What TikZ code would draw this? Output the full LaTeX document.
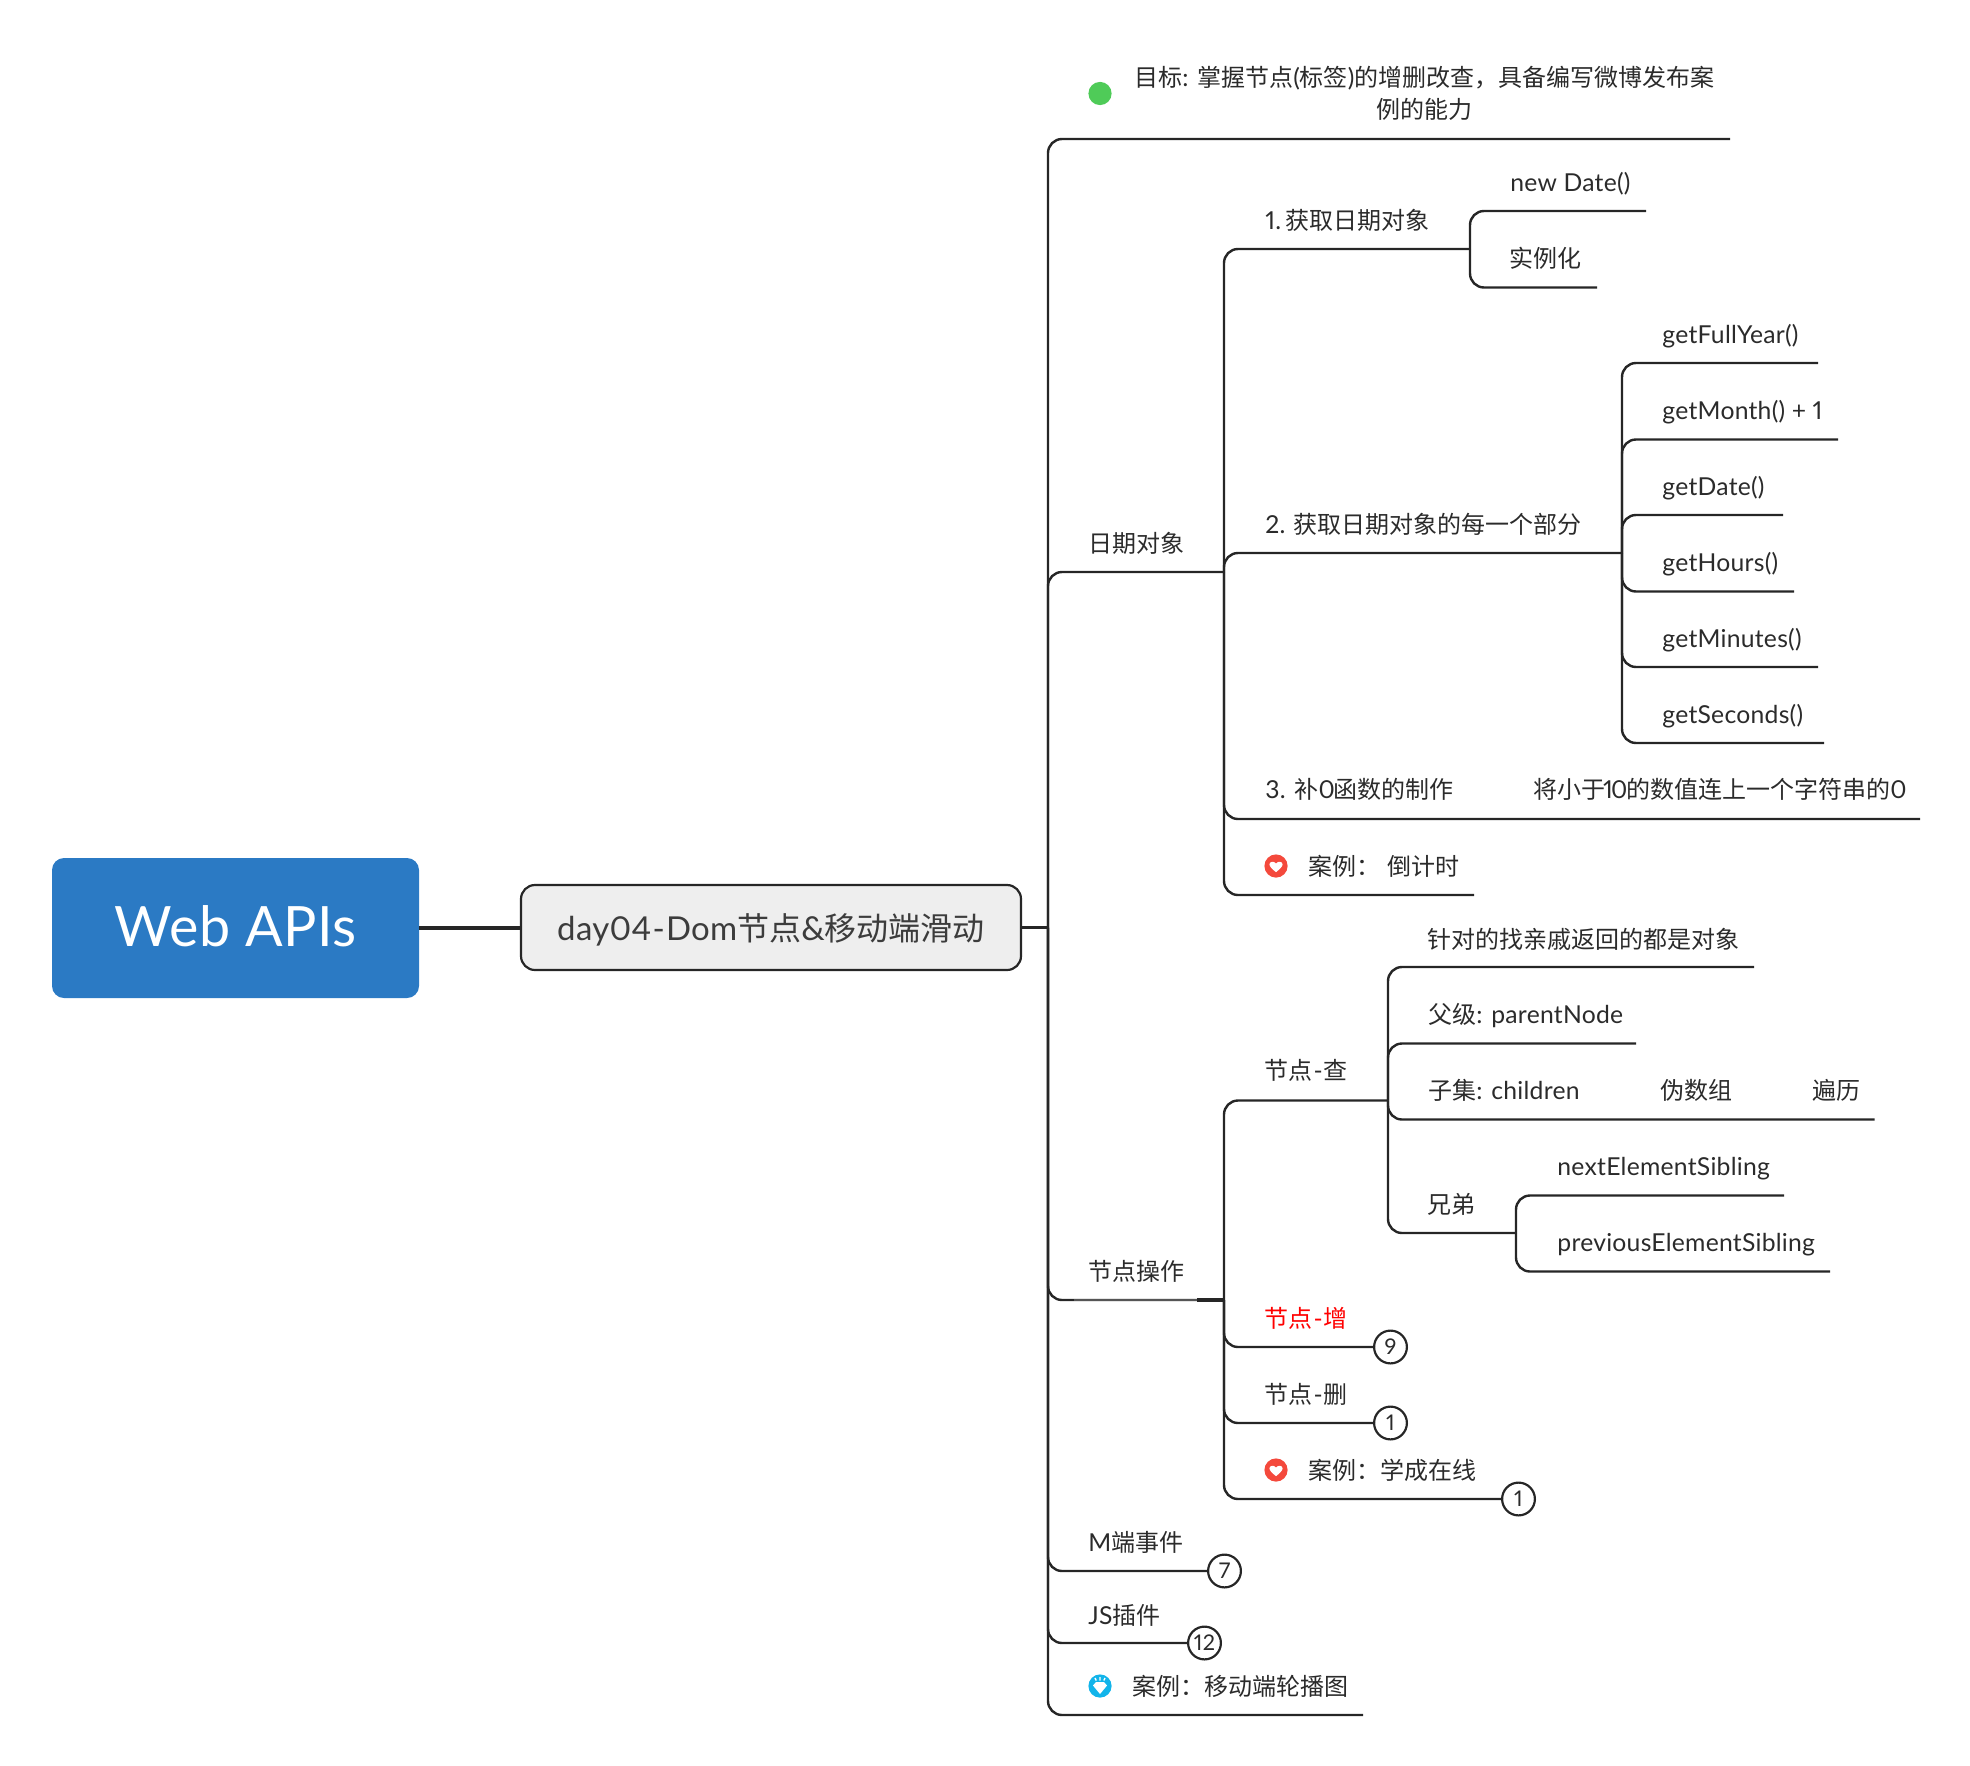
\documentclass[tikz,border=0pt]{standalone}
\usepackage{fontspec}
\setmainfont{Lato}[Scale=1.03,LetterSpace=1,Numbers=Proportional]
\newfontfamily\cjkfam{Noto Sans CJK SC}
\newcommand{\zh}[1]{{\cjkfam #1}}
\newcommand{\hy}{\kern0.6pt-\kern0.6pt}
\definecolor{ink}{HTML}{262626}
\definecolor{txt}{HTML}{2B2B2B}
\definecolor{heartred}{HTML}{F4493C}
\definecolor{gemblue}{HTML}{12B4EA}
\definecolor{dotgreen}{HTML}{4FCB58}
\definecolor{rootblue}{HTML}{2B7AC4}
\definecolor{dayfill}{HTML}{EEEEEE}
\definecolor{daytext}{HTML}{3C3C3C}
\definecolor{fadeline}{HTML}{555555}
\tikzset{
  x=0.5pt,y=-0.5pt,
  branch/.style={draw=ink,line width=1.2pt,rounded corners=7pt},
  leaf/.style={anchor=west,inner sep=0pt,text=txt,font=\fontsize{12}{16}\selectfont,text height=10.6pt,text depth=0.8pt},
  countbadge/.style={circle,draw=ink,line width=1.1pt,fill=white,minimum size=16.4pt,inner sep=0pt,text=txt,font=\fontsize{10.5}{12}\selectfont},
  iconbase/.style={circle,minimum size=11.6pt,inner sep=0pt},
  heartfill/.style={fill=white}
}
\newcommand{\heartat}[1]{\fill[heartfill,shift={(#1)},scale=0.82] (0,7.5) .. controls (-5,3.5) and (-8,0.5) .. (-8,-2) .. controls (-8,-5.5) and (-2.5,-6.5) .. (0,-3) .. controls (2.5,-6.5) and (8,-5.5) .. (8,-2) .. controls (8,.5) and (5,3.5) .. (0,7.5) -- cycle;}
\begin{document}
\begin{tikzpicture}
\useasboundingbox (0,0) rectangle (1970,1766);
% main nodes
\node[fill=rootblue,rounded corners=6pt,minimum width=183.5pt,minimum height=70pt,inner sep=0pt,text=white,font=\fontsize{27}{32}\selectfont,text height=19.5pt,text depth=1.5pt] (root) at (235.5,928) {Web APIs};
\node[draw=ink,fill=dayfill,line width=1.1pt,rounded corners=7pt,minimum width=250pt,minimum height=42.5pt,inner sep=0pt,text=daytext,font=\fontsize{16}{20}\selectfont,text height=14pt,text depth=1pt] (day) at (771,927.5) {day04\hy Dom\zh{节点}\&\zh{移动端滑动}};
\coordinate (trunk) at (1048,927.5);
\coordinate (dj) at (1224,572);
\coordinate (jj) at (1224,1300);
\coordinate (part2) at (1622,553);
\coordinate (part1) at (1470,249);
\coordinate (cha) at (1388,1100.5);
\coordinate (xd) at (1516,1233);
\draw[ink,line width=2pt] (root.east |- day.west) -- (day.west);
\draw[ink,line width=1.2pt] (day.east) -- (trunk);
% level 1 line ends
\coordinate (e0) at (1730,139);
\coordinate (eLast) at (1363,1715);
\draw[branch] (trunk) |- (e0);
\draw[branch] (trunk) |- (dj);
\draw[branch] (trunk) |- (jj);
\draw[branch] (trunk) |- (eLast);
\coordinate (jjs) at (1074,1300);
\coordinate (jjm) at (1197,1300);
\draw[fadeline,line width=1.2pt] (jjs) -- (jjm);
\draw[ink,line width=1.6pt] (jjm) -- (jj);
% level 2: date
\coordinate (e3) at (1920,819);
\coordinate (e4) at (1474,895);
\draw[branch] (dj) |- (part1);
\draw[branch] (dj) |- (part2);
\draw[branch] (dj) |- (e3);
\draw[branch] (dj) |- (e4);
% part 1
\coordinate (p11) at (1646,211);
\coordinate (p12) at (1597,287.5);
\draw[branch] (part1) |- (p11);
\draw[branch] (part1) |- (p12);
% part 2
\coordinate (p21) at (1818,363);
\coordinate (p22) at (1838,439.5);
\coordinate (p23) at (1783,515);
\coordinate (p24) at (1794,591.5);
\coordinate (p25) at (1818,667);
\coordinate (p26) at (1824,743);
\foreach \e in {p21,p22,p23,p24,p25,p26} {\draw[branch] (part2) |- (\e);}
% nodes ops
\draw[branch] (jj) |- (cha);
\coordinate (c1) at (1754,967);
\coordinate (c2) at (1636,1043.5);
\coordinate (c3) at (1874.5,1119.5);
\draw[branch] (cha) |- (c1);
\draw[branch] (cha) |- (c2);
\draw[branch] (cha) |- (c3);
\draw[branch] (cha) |- (xd);
\coordinate (x1) at (1784,1195.5);
\coordinate (x2) at (1830,1271.5);
\draw[branch] (xd) |- (x1);
\draw[branch] (xd) |- (x2);
% badges
\node[countbadge] (b9) at (1390.5,1347) {9};
\node[countbadge] (b1a) at (1390.5,1423) {1};
\node[countbadge] (b1b) at (1518.5,1499) {1};
\node[countbadge] (b7) at (1224.5,1571) {7};
\node[countbadge] (b12) at (1204.5,1643) {12};
\draw[branch] (jj) |- (b9.west);
\draw[branch] (jj) |- (b1a.west);
\draw[branch] (jj) |- (b1b.west);
\draw[branch] (trunk) |- (b7.west);
\draw[branch] (trunk) |- (b12.west);
% icons
\node[iconbase,fill=dotgreen] (goaldot) at (1100,93.5) {};
\node[iconbase,fill=heartred] (h1) at (1276,866) {};
\heartat{h1}
\node[iconbase,fill=heartred] (h2) at (1276,1470) {};
\heartat{h2}
\node[iconbase,fill=gemblue] (g1) at (1100,1686) {};
\fill[white,shift={(g1)}] (-4,-4) -- (4,-4) -- (7,-0.5) -- (0,8) -- (-7,-0.5) -- cycle;
\draw[white,line width=0.7pt,shift={(g1)}] (0,-9) -- (0,-5.5) (-5,-8) -- (-3.8,-5.5) (5,-8) -- (3.8,-5.5);
% texts
\node[inner sep=0pt,align=center,text=txt,font=\fontsize{12}{16}\selectfont] (goal) at (1424.5,93.5) {\zh{目标}: \zh{掌握节点}(\zh{标签})\zh{的增删改查，具备编写微博发布案}\\\zh{例的能力}};
\node[leaf] (t1) at (1265,220) {1.\kern-2.2pt{} \zh{获取日期对象}};
\node[leaf] (t11) at (1510,181.5) {new Date()};
\node[leaf] (t12) at (1509,257.5) {\zh{实例化}};
\node[leaf] (t2) at (1265,524) {2.\kern-0.5pt{} \zh{获取日期对象的每一个部分}};
\node[leaf] (t21) at (1662,333.5) {getFullYear()};
\node[leaf] (t22) at (1662,409.5) {getMonth() + 1};
\node[leaf] (t23) at (1662,485.5) {getDate()};
\node[leaf] (t24) at (1662,561.5) {getHours()};
\node[leaf] (t25) at (1662,637.5) {getMinutes()};
\node[leaf] (t26) at (1662,713.5) {getSeconds()};
\node[leaf] (t3) at (1265,789) {3. \zh{补}0\kern-0.5pt\zh{函数的制作}};
\node[leaf] (t31) at (1533,789) {\zh{将小于}\kern-1.2pt 1\kern-0.8pt 0\kern-0.6pt\zh{的数值连上一个字符串的}0};
\node[leaf] (t4) at (1308,866) {\zh{案例：}};
\node[leaf] (t41) at (1387,866) {\zh{倒计时}};
\node[leaf] (tdate) at (1088,543) {\zh{日期对象}};
\node[leaf] (tops) at (1088,1271) {\zh{节点操作}};
\node[leaf] (tcha) at (1264,1070) {\zh{节点}\hy\zh{查}};
\node[leaf] (tc1) at (1427,938.5) {\zh{针对的找亲戚返回的都是对象}};
\node[leaf] (tc2) at (1428,1014) {\zh{父级}: parentNode};
\node[leaf] (tc3) at (1428,1090) {\zh{子集}: children};
\node[leaf] (tc31) at (1660,1090) {\zh{伪数组}};
\node[leaf] (tc32) at (1812,1090) {\zh{遍历}};
\node[leaf] (tc4) at (1427,1203.5) {\zh{兄弟}};
\node[leaf] (tx1) at (1557,1166) {nextElementSibling};
\node[leaf] (tx2) at (1557,1242) {previousElementSibling};
\node[leaf,text=red] (tzeng) at (1264,1318) {\zh{节点}\hy\zh{增}};
\node[leaf] (tshan) at (1264,1394) {\zh{节点}\hy\zh{删}};
\node[leaf] (txc) at (1308,1470) {\zh{案例：学成在线}};
\node[leaf] (tm) at (1088,1542) {M\zh{端事件}};
\node[leaf] (tjs) at (1088,1614.5) {JS\zh{插件}};
\node[leaf] (tlb) at (1132,1686) {\zh{案例：移动端轮播图}};
\end{tikzpicture}
\end{document}
